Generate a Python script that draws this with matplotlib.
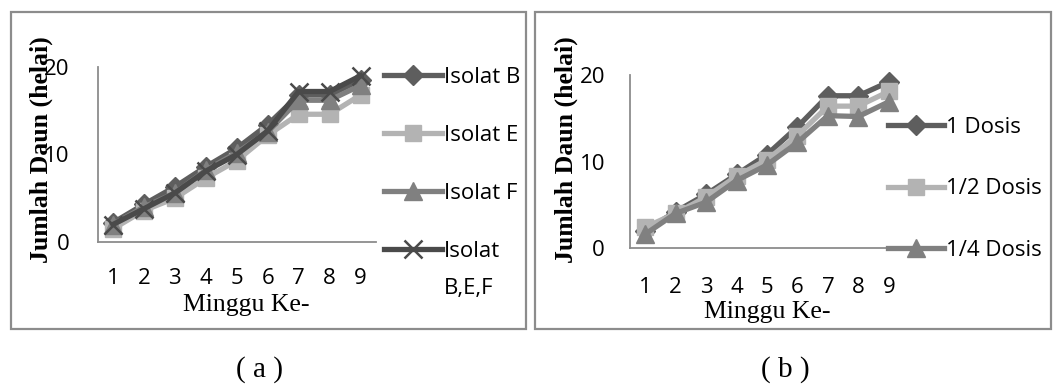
import matplotlib
matplotlib.use("Agg")
import matplotlib.pyplot as plt
from matplotlib.patches import Rectangle

# week numbers on the x axis
weeks = [1, 2, 3, 4, 5, 6, 7, 8, 9]

# panel (a): isolates
isolat_b = [2.2, 4.3, 6.3, 8.6, 10.7, 13.4, 16.8, 16.8, 18.5]
isolat_e = [1.5, 3.6, 5.0, 7.3, 9.3, 12.2, 14.6, 14.6, 16.8]
isolat_f = [2.0, 4.0, 5.6, 8.2, 10.2, 12.6, 16.2, 16.2, 17.9]
isolat_bef = [2.0, 3.8, 5.6, 8.1, 10.0, 12.7, 17.2, 17.2, 19.0]
# last label is wrapped: second line is added under the legend below
labels_a = ["Isolat B", "Isolat E", "Isolat F", "Isolat"]
label_a_wrap = "B,E,F"

# panel (b): doses
dosis_1 = [2.0, 4.2, 6.2, 8.5, 10.8, 14.0, 17.6, 17.6, 19.2]
dosis_half = [2.4, 4.0, 5.9, 8.3, 10.2, 13.0, 16.4, 16.4, 18.1]
dosis_quarter = [1.6, 4.0, 5.3, 7.8, 9.6, 12.2, 15.3, 15.2, 16.9]
labels_b = ["1 Dosis", "1/2 Dosis", "1/4 Dosis"]

yticks = [0, 10, 20]

W, H = 1054, 392
SANS = "Open Sans"
SERIF = "Liberation Serif"
AXIS_GRAY = "#8c8c8c"
FS = 16

styles = [
    dict(color="#5e5e5e", marker="D", ms=10),
    dict(color="#b3b3b3", marker="s", ms=12),
    dict(color="#808080", marker="^", ms=13),
    dict(color="#4a4a4a", marker="x", ms=13, mew=1.8),
]


def px_box(x0, y0, x1, y1):
    # pixel box (top-left origin) -> figure fraction rect
    return [x0 / W, 1 - y1 / H, (x1 - x0) / W, (y1 - y0) / H]


def setup_axes(ax, ypad, xpad):
    ax.set_xlim(0.5, 9.5)
    ax.set_ylim(0, 20)
    ax.set_xticks(weeks)
    ax.set_yticks(yticks)
    for s in ["top", "right"]:
        ax.spines[s].set_visible(False)
    for s in ["left", "bottom"]:
        ax.spines[s].set_color(AXIS_GRAY)
        ax.spines[s].set_linewidth(1.3)
    ax.tick_params(axis="both", length=0, labelsize=FS)
    ax.tick_params(axis="y", pad=ypad)
    ax.tick_params(axis="x", pad=xpad)
    for lab in ax.get_xticklabels() + ax.get_yticklabels():
        lab.set_fontfamily(SANS)
    ax.set_xlabel("Minggu Ke-", family=SERIF, fontsize=18.5)
    ax.set_ylabel("Jumlah Daun (helai)", family=SERIF, fontsize=18.5, fontweight="bold")


fig = plt.figure(figsize=(W / 100, H / 100), dpi=100)

# outer frames around both panels
for box in [px_box(11, 12, 526, 329), px_box(535, 12, 1051, 329)]:
    fig.patches.append(Rectangle((box[0], box[1]), box[2], box[3], transform=fig.transFigure,
                                 fill=False, edgecolor=AXIS_GRAY, linewidth=1.6))

# panel (a)
ax1 = fig.add_axes(px_box(97.5, 67, 376, 242))
for data, st, lab in zip([isolat_b, isolat_e, isolat_f, isolat_bef], styles, labels_a):
    ax1.plot(weeks, data, lw=3.8, label=lab, clip_on=False, **st)
setup_axes(ax1, ypad=20, xpad=19)
ax1.xaxis.set_label_coords(0.535, -0.3)
ax1.yaxis.set_label_coords(-0.16, 0.53)
leg1 = ax1.legend(loc="upper left", bbox_to_anchor=(384 / W, 1 - 67 / H), bbox_transform=fig.transFigure,
                  frameon=False, prop={"family": SANS, "size": FS}, handlelength=2.6,
                  handletextpad=0.1, labelspacing=1.66, borderpad=0, borderaxespad=0)

# panel (b)
ax2 = fig.add_axes(px_box(630, 75, 904, 248))
for data, st, lab in zip([dosis_1, dosis_half, dosis_quarter], styles[:3], labels_b):
    ax2.plot(weeks, data, lw=3.8, label=lab, clip_on=False, **st)
setup_axes(ax2, ypad=18, xpad=21)
ax2.xaxis.set_label_coords(0.5, -0.305)
ax2.yaxis.set_label_coords(-0.19, 0.57)
ax2.legend(loc="upper left", bbox_to_anchor=(888 / W, 1 - 117 / H), bbox_transform=fig.transFigure,
           frameon=False, prop={"family": SANS, "size": FS}, handlelength=2.5,
           handletextpad=0.1, labelspacing=1.82, borderpad=0, borderaxespad=0)

# second line of the wrapped legend label, placed under "Isolat"
fig.canvas.draw()
last = leg1.get_texts()[-1].get_window_extent()
fig.text(last.x0 / W, (last.y0 - 37) / H, label_a_wrap, family=SANS, fontsize=FS,
         ha="left", va="bottom")

fig.text(260 / W, 1 - 370 / H, "( a )", family=SERIF, fontsize=21, ha="center", va="center")
fig.text(785 / W, 1 - 370 / H, "( b )", family=SERIF, fontsize=21, ha="center", va="center")

fig.savefig("out.png", dpi=100)
